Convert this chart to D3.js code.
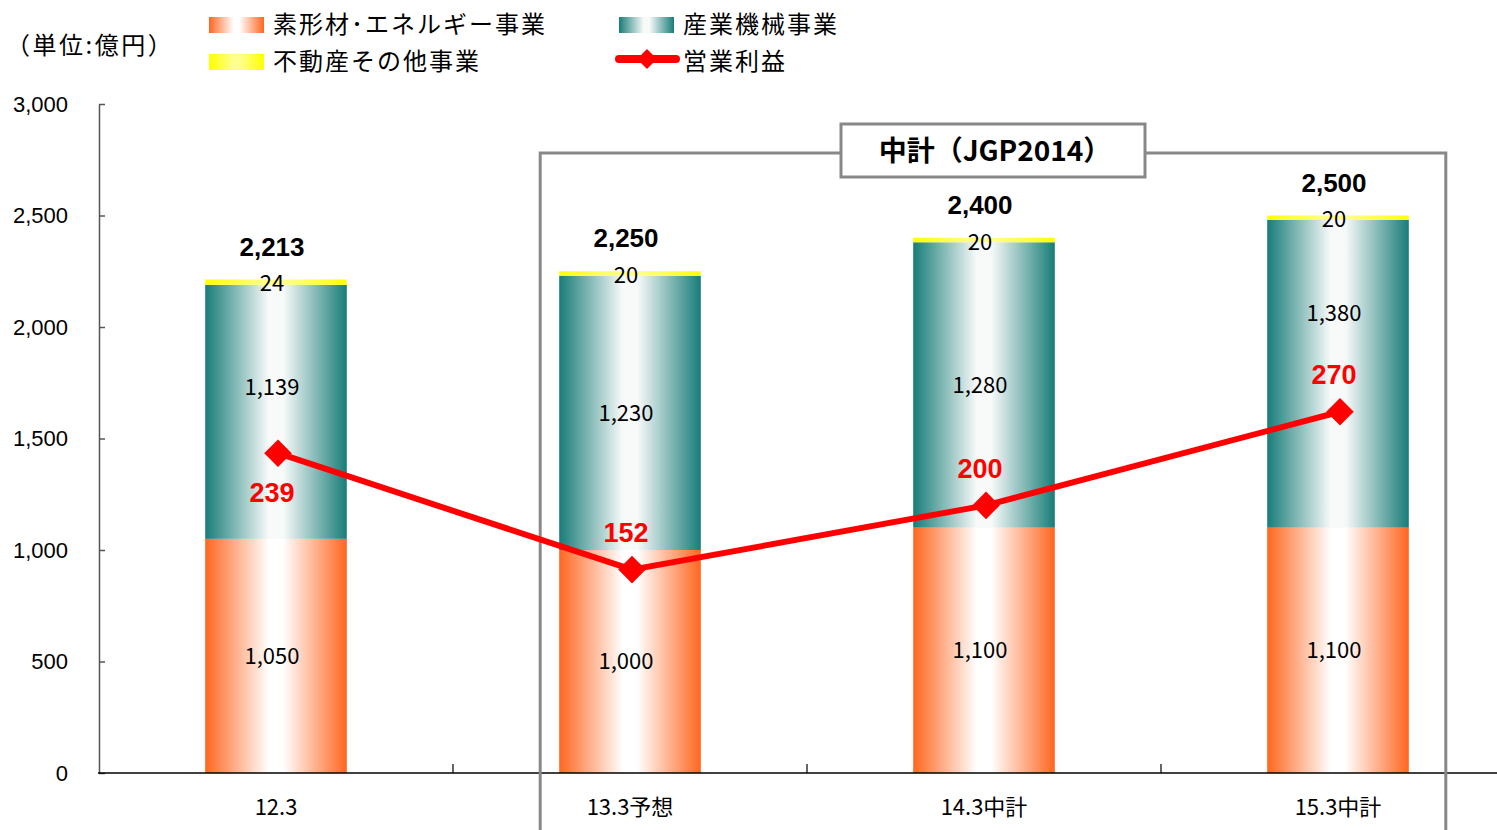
<!DOCTYPE html>
<html>
<head>
<meta charset="utf-8">
<script src="https://cdn.jsdelivr.net/npm/d3@7"></script>
<style>
  body { margin: 0; background: #fff; }
  svg { display: block; }
</style>
</head>
<body>
<div id="chart"></div>
<script>
const categories = ["12.3", "13.3予想", "14.3中計", "15.3中計"];
const materials = [1050, 1000, 1100, 1100];   // 素形材・エネルギー事業
const machinery = [1139, 1230, 1280, 1380];   // 産業機械事業
const realEstate = [24, 20, 20, 20];          // 不動産その他事業
const totals = [2213, 2250, 2400, 2500];
const profit = [239, 152, 200, 270];          // 営業利益
const yTicks = [0, 500, 1000, 1500, 2000, 2500, 3000];

const width = 1497, height = 830;
const jpFont = "'Noto Sans CJK JP', 'Noto Sans', sans-serif";
const numFont = "'Liberation Sans', Arial, sans-serif";

const svg = d3.select("#chart").append("svg")
  .attr("width", width).attr("height", height);

const defs = svg.append("defs");
const hGrad = (id, edge, mid) => {
  const g = defs.append("linearGradient").attr("id", id)
    .attr("x1", "0%").attr("x2", "100%").attr("y1", "0%").attr("y2", "0%");
  [[0, edge], [0.45, mid], [0.55, mid], [1, edge]].forEach(([o, c]) =>
    g.append("stop").attr("offset", o).attr("stop-color", c));
};
hGrad("gOrange", "#ff6620", "#ffffff");
hGrad("gTeal", "#187d78", "#f8fafa");
hGrad("gYellow", "#ffff00", "#ffff90");

const x = d3.scaleBand().domain(categories).range([99, 1515])
  .paddingInner(0.6).paddingOuter(0.3);
const y = d3.scaleLinear().domain([0, 3000]).range([773, 104]);
const y2 = d3.scaleLinear().domain([0, 500]).range([773, 104]);

// stacked bars
const rows = categories.map((c, i) => ({
  cat: c, materials: materials[i], machinery: machinery[i], realEstate: realEstate[i]
}));
const keys = ["materials", "machinery", "realEstate"];
const fills = { materials: "url(#gOrange)", machinery: "url(#gTeal)", realEstate: "url(#gYellow)" };
const stacked = d3.stack().keys(keys)(rows);

svg.append("g").selectAll("g").data(stacked).join("g")
  .attr("fill", d => fills[d.key])
  .selectAll("rect").data(d => d).join("rect")
  .attr("x", d => x(d.data.cat))
  .attr("y", d => y(d[1]))
  .attr("width", x.bandwidth())
  .attr("height", d => y(d[0]) - y(d[1]));

// segment value labels (a couple nudged upward to clear the profit line)
const nudge = { "12.3": -25, "15.3中計": -61 };
const fmt = d3.format(",");
stacked.forEach(layer => {
  svg.append("g").selectAll("text").data(layer).join("text")
    .attr("x", d => x(d.data.cat) + x.bandwidth() / 2 - 4)
    .attr("y", d => layer.key === "realEstate"
      ? y(d[1]) + 4
      : (y(d[0]) + y(d[1])) / 2 + (layer.key === "machinery" ? (nudge[d.data.cat] || 0) : 0))
    .attr("dy", "0.35em")
    .attr("text-anchor", "middle")
    .attr("font-family", jpFont)
    .attr("font-size", 22)
    .attr("fill", "#000")
    .text(d => fmt(d[1] - d[0]));
});

// totals
svg.append("g").selectAll("text").data(totals).join("text")
  .attr("x", (d, i) => x(categories[i]) + x.bandwidth() / 2 - 4)
  .attr("y", d => y(d) - 33)
  .attr("dy", "0.35em")
  .attr("text-anchor", "middle")
  .attr("font-family", numFont)
  .attr("font-weight", "bold")
  .attr("font-size", 26)
  .text(d => fmt(d));

// left axis, ticks pointing inward
const yAxis = svg.append("g").attr("transform", "translate(99,0)")
  .call(d3.axisLeft(y).tickValues(yTicks).tickSize(-6).tickSizeOuter(0)
    .tickPadding(31).tickFormat(fmt));
yAxis.select(".domain").attr("stroke", "#555").attr("stroke-width", 1.5);
yAxis.selectAll(".tick line").attr("stroke", "#555").attr("stroke-width", 1.5);
yAxis.selectAll("text").attr("font-family", numFont).attr("font-size", 22).attr("fill", "#000");

// baseline with category separators
svg.append("line").attr("x1", 98).attr("x2", width).attr("y1", y(0)).attr("y2", y(0))
  .attr("stroke", "#000").attr("stroke-width", 1.5);
svg.append("g").selectAll("line").data(categories.slice(1)).join("line")
  .attr("x1", d => x(d) - x.step() * x.paddingInner() / 2)
  .attr("x2", d => x(d) - x.step() * x.paddingInner() / 2)
  .attr("y1", y(0)).attr("y2", y(0) - 9)
  .attr("stroke", "#000").attr("stroke-width", 1.2);

svg.append("g").selectAll("text").data(categories).join("text")
  .attr("x", d => x(d) + x.bandwidth() / 2)
  .attr("y", 807)
  .attr("dy", "0.35em")
  .attr("text-anchor", "middle")
  .attr("font-family", jpFont)
  .attr("font-size", 22)
  .text(d => d);

// mid-term plan frame
const frameL = x(categories[1]) - 19;
const frameR = x(categories[3]) + x.bandwidth() + 37;
svg.append("path")
  .attr("d", `M${frameL},${height + 5}V153H${frameR}V${height + 5}`)
  .attr("fill", "none").attr("stroke", "#888").attr("stroke-width", 3);
svg.append("rect").attr("x", 841).attr("y", 124).attr("width", 304).attr("height", 53)
  .attr("fill", "#fff").attr("stroke", "#888").attr("stroke-width", 3);
svg.append("text").attr("x", 995).attr("y", 151).attr("dy", "0.35em")
  .attr("text-anchor", "middle").attr("font-family", jpFont)
  .attr("font-weight", "bold").attr("font-size", 28)
  .text("中計（JGP2014）");

// operating profit line with square-diamond markers
const pts = categories.map((c, i) => [x(c) + x.bandwidth() / 2 + 2, y2(profit[i])]);
svg.append("path").attr("d", d3.line()(pts))
  .attr("fill", "none").attr("stroke", "#ff0000").attr("stroke-width", 6)
  .attr("stroke-linejoin", "round");
const marker = d3.symbol().type(d3.symbolSquare).size(380);
svg.append("g").selectAll("path").data(pts).join("path")
  .attr("transform", d => `translate(${d[0]},${d[1]}) rotate(45)`)
  .attr("d", marker).attr("fill", "#ff0000");

svg.append("g").selectAll("text").data(profit).join("text")
  .attr("x", (d, i) => pts[i][0] - 6)
  .attr("y", (d, i) => pts[i][1] + (i === 0 ? 39 : -37))
  .attr("dy", "0.35em")
  .attr("text-anchor", "middle")
  .attr("font-family", numFont)
  .attr("font-weight", "bold")
  .attr("font-size", 27)
  .attr("fill", "#ff0000")
  .text(d => d);

// unit note and legend
svg.append("text").attr("x", 6).attr("y", 46).attr("dy", "0.35em")
  .attr("font-family", jpFont).attr("font-size", 24).attr("letter-spacing", 2.5)
  .text("（単位:億円）");

const legend = [
  { label: "素形材･エネルギー事業", fill: "url(#gOrange)", lx: 209, ly: 25 },
  { label: "産業機械事業", fill: "url(#gTeal)", lx: 619, ly: 25 },
  { label: "不動産その他事業", fill: "url(#gYellow)", lx: 209, ly: 62 }
];
legend.forEach(l => {
  svg.append("rect").attr("x", l.lx).attr("y", l.ly - 8).attr("width", 55).attr("height", 16)
    .attr("fill", l.fill);
  svg.append("text").attr("x", l.lx + 64).attr("y", l.ly).attr("dy", "0.35em")
    .attr("font-family", jpFont).attr("font-size", 24).attr("letter-spacing", 2)
    .text(l.label);
});
svg.append("line").attr("x1", 619).attr("x2", 676).attr("y1", 59).attr("y2", 59)
  .attr("stroke", "#ff0000").attr("stroke-width", 8).attr("stroke-linecap", "round");
svg.append("path").attr("transform", "translate(647,59) rotate(45)")
  .attr("d", d3.symbol().type(d3.symbolSquare).size(200)).attr("fill", "#ff0000");
svg.append("text").attr("x", 683).attr("y", 62).attr("dy", "0.35em")
  .attr("font-family", jpFont).attr("font-size", 24).attr("letter-spacing", 2)
  .text("営業利益");
</script>
</body>
</html>
